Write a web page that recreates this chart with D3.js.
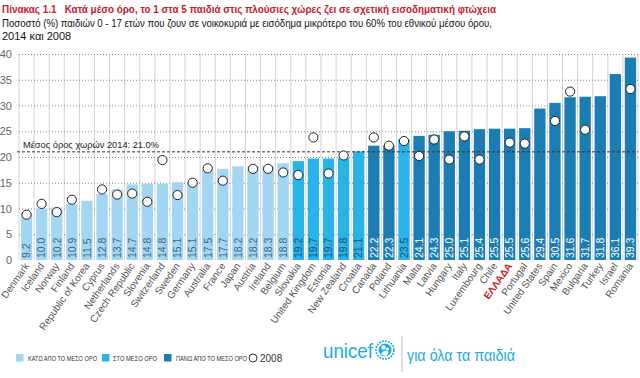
<!DOCTYPE html>
<html><head><meta charset="utf-8">
<script src="https://cdn.jsdelivr.net/npm/d3@7"></script>
<style>body{margin:0;background:#fff}svg{display:block;font-family:"Liberation Sans",Arial,sans-serif}</style>
</head><body>
<script>
const countries = ["Denmark","Iceland","Norway","Finland","Republic of Korea","Cyprus","Netherlands","Czech Republic","Slovenia","Switzerland","Sweden","Germany","Australia","France","Japan","Austria","Ireland","Belgium","Slovakia","United Kingdom","Estonia","New Zealand","Croatia","Canada","Poland","Lithuania","Malta","Latvia","Hungary","Italy","Luxembourg","Chile","ΕΛΛΑΔΑ","Portugal","United States","Spain","Mexico","Bulgaria","Turkey","Israel","Romania"];
const values2014 = [9.2,10.0,10.2,10.9,11.5,12.8,13.7,14.7,14.8,14.8,15.1,15.1,17.5,17.7,18.2,18.2,18.3,18.8,19.2,19.7,19.7,19.8,21.1,22.2,22.3,23.5,24.1,24.3,25.0,25.1,25.4,25.5,25.5,25.6,29.4,30.5,31.6,31.7,31.8,36.1,39.3];
const values2008 = [8.8,10.9,9.3,11.7,null,13.7,12.7,12.9,11.3,19.4,12.6,15.0,17.8,15.4,null,17.7,17.7,17.0,16.5,23.8,16.8,20.3,null,23.8,22.2,23.1,20.2,23.4,19.5,24.0,19.5,null,22.8,22.6,null,27.0,32.7,25.3,null,null,33.2];
const groups = ["below","below","below","below","below","below","below","below","below","below","below","below","below","below","below","below","below","below","at","at","at","at","at","above","above","at","above","above","above","above","above","above","above","above","above","above","above","above","above","above","above"];
const average2014 = 21.0;
const yTicks = [0,5,10,15,20,25,30,35,40];
const groupKeys = ["below","at","above"];
const legendLabels = ["ΚΑΤΩ ΑΠΟ ΤΟ ΜΕΣΟ ΟΡΟ","ΣΤΟ ΜΕΣΟ ΟΡΟ","ΠΑΝΩ ΑΠΟ ΤΟ ΜΕΣΟ ΟΡΟ"];
const titleText = "Πίνακας 1.1   Κατά μέσο όρο, το 1 στα 5 παιδιά στις πλούσιες χώρες ζει σε σχετική εισοδηματική φτώχεια";
const subtitle1 = "Ποσοστό (%) παιδιών 0 - 17 ετών που ζουν σε νοικοκυριά με εισόδημα μικρότερο του 60% του εθνικού μέσου όρου,";
const subtitle2 = "2014 και 2008";
const avgLabel = "Μέσος όρος χωρών 2014: 21.0%";

const W = 640, H = 378;
const svg = d3.select("body").append("svg").attr("width", W).attr("height", H);

const color = d3.scaleOrdinal().domain(groupKeys).range(["#a3d6f2","#2ab3e6","#1c7db3"]);
const textColor = d3.scaleOrdinal().domain(groupKeys).range(["#3a6688","#174f78","#ffffff"]);

const x = d3.scaleBand().domain(countries).range([19, 638]).paddingInner(0.25).paddingOuter(0.125);
const y = d3.scaleLinear().domain([0, 40]).range([260, 54]);

// title
svg.append("text").attr("x", 2).attr("y", 13).attr("fill", "#c8202f").attr("font-weight", "bold")
  .style("white-space", "pre").attr("xml:space", "preserve")
  .attr("font-size", 11.5).attr("textLength", 494).attr("lengthAdjust", "spacingAndGlyphs").text(titleText);
svg.append("text").attr("x", 2).attr("y", 27).attr("fill", "#111").attr("font-size", 11)
  .attr("textLength", 490).attr("lengthAdjust", "spacingAndGlyphs").text(subtitle1);
svg.append("text").attr("x", 2).attr("y", 40).attr("fill", "#111").attr("font-size", 11).text(subtitle2);

// vertical grid lines at band boundaries
const step = x.step();
const bounds = d3.range(countries.length + 1).map(i => x.range()[0] + i * step);
svg.append("g").selectAll("line").data(bounds).join("line")
  .attr("x1", d => d).attr("x2", d => d).attr("y1", y(40)).attr("y2", y(0))
  .attr("stroke", "#d4d4d4").attr("stroke-width", 1);

// horizontal dotted grid
svg.append("g").selectAll("line").data(yTicks.filter(d => d > 0)).join("line")
  .attr("x1", 19).attr("x2", 638).attr("y1", d => y(d) + 0.5).attr("y2", d => y(d) + 0.5)
  .attr("stroke", "#888").attr("stroke-dasharray", "1,2").attr("stroke-width", 1);

// y axis labels
const yAxis = d3.axisLeft(y).tickValues(yTicks).tickSize(0).tickPadding(4);
const gy = svg.append("g").attr("transform", "translate(16,0)").call(yAxis);
gy.select(".domain").remove();
gy.selectAll("text").attr("font-size", 11).attr("fill", "#666").attr("font-family", "Liberation Sans, Arial, sans-serif");

// bars
svg.append("g").selectAll("rect").data(countries).join("rect")
  .attr("x", d => x(d)).attr("width", x.bandwidth())
  .attr("y", (d, i) => y(values2014[i])).attr("height", (d, i) => y(0) - y(values2014[i]))
  .attr("fill", (d, i) => color(groups[i]));

// value labels
svg.append("g").selectAll("text").data(countries).join("text")
  .attr("transform", d => `translate(${x(d) + x.bandwidth() / 2 + 3.8},258) rotate(-90)`)
  .attr("font-size", 10.5).attr("fill", (d, i) => textColor(groups[i]))
  .text((d, i) => values2014[i].toFixed(1));

// average line
svg.append("line").attr("x1", 17).attr("x2", 638).attr("y1", y(average2014)).attr("y2", y(average2014))
  .attr("stroke", "#333").attr("stroke-dasharray", "3,2").attr("stroke-width", 1);
svg.append("text").attr("x", 23).attr("y", y(average2014) - 4).attr("font-size", 9.5).attr("fill", "#222")
  .attr("textLength", 136).attr("lengthAdjust", "spacingAndGlyphs").text(avgLabel);

// 2008 circles
svg.append("g").selectAll("circle").data(countries.filter((d, i) => values2008[i] != null)).join("circle")
  .attr("cx", d => x(d) + x.bandwidth() / 2)
  .attr("cy", d => y(values2008[countries.indexOf(d)]))
  .attr("r", 4.6).attr("fill", "#fff").attr("stroke", "#222").attr("stroke-width", 1);

// x labels
svg.append("g").selectAll("text").data(countries).join("text")
  .attr("transform", d => `translate(${x(d) + x.bandwidth() / 2 + 3},266) rotate(-55)`)
  .attr("text-anchor", "end").attr("font-size", 10)
  .attr("fill", d => d === "ΕΛΛΑΔΑ" ? "#d0202f" : "#555")
  .attr("font-weight", d => d === "ΕΛΛΑΔΑ" ? "bold" : "normal")
  .text(d => d);

// legend
const legX = [16, 102, 164], legTX = [28, 113, 176], legW = [69, 44, 71];
const leg = svg.append("g");
groupKeys.forEach((k, i) => {
  leg.append("rect").attr("x", legX[i]).attr("y", 354).attr("width", 7.5).attr("height", 7.5).attr("fill", color(k));
  leg.append("text").attr("x", legTX[i]).attr("y", 360.5).attr("font-size", 6.5).attr("fill", "#333")
    .attr("textLength", legW[i]).attr("lengthAdjust", "spacingAndGlyphs").text(legendLabels[i]);
});
leg.append("circle").attr("cx", 253).attr("cy", 358).attr("r", 4).attr("fill", "#fff").attr("stroke", "#333");
leg.append("text").attr("x", 260).attr("y", 362).attr("font-size", 10).attr("fill", "#333").text("2008");

// unicef logo
const logo = svg.append("g");
logo.append("text").attr("x", 323).attr("y", 358).attr("font-size", 21).attr("fill", "#1cabe2")
  .attr("textLength", 50).attr("lengthAdjust", "spacingAndGlyphs").text("unicef");
const em = logo.append("g").attr("transform", "translate(385,350)");
em.append("circle").attr("r", 9).attr("fill", "none").attr("stroke", "#1cabe2").attr("stroke-width", 1.6).attr("stroke-dasharray", "2,1");
em.append("circle").attr("r", 6.5).attr("fill", "#1cabe2");
em.append("circle").attr("cx", -1.5).attr("cy", -2.5).attr("r", 2.2).attr("fill", "#fff");
em.append("path").attr("d", "M-4,4 Q-1,-1 3,1 Q4,4 1,6 Q-2,6 -4,4Z").attr("fill", "#fff");
em.append("circle").attr("cx", 2.5).attr("cy", -1).attr("r", 1.5).attr("fill", "#fff");
logo.append("line").attr("x1", 402).attr("x2", 402).attr("y1", 336).attr("y2", 372).attr("stroke", "#bbb");
logo.append("text").attr("x", 407).attr("y", 361).attr("font-size", 17).attr("fill", "#1cabe2")
  .attr("textLength", 108).attr("lengthAdjust", "spacingAndGlyphs").text("για όλα τα παιδιά");
</script>
</body></html>
